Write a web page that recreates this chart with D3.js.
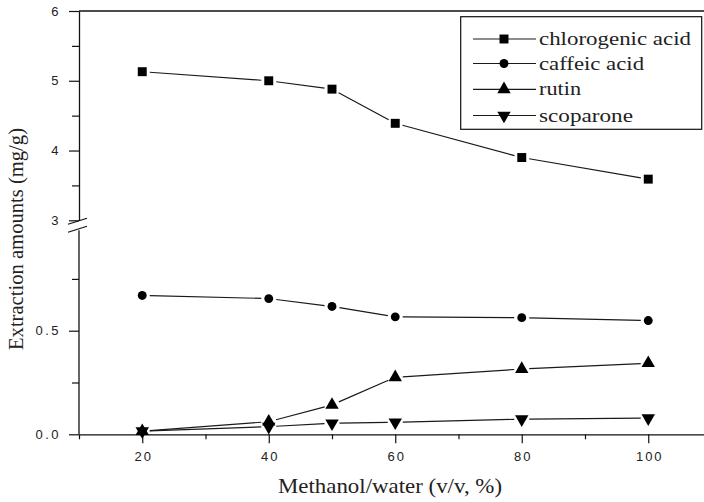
<!DOCTYPE html>
<html><head><meta charset="utf-8">
<script src="https://cdn.jsdelivr.net/npm/d3@7"></script>
<style>
html,body{margin:0;padding:0;background:#fff;}
svg{display:block;}
</style>
</head><body>
<svg id="chart" width="704" height="502"></svg>
<script>
// ---- data ----
const methanol = [20, 40, 50, 60, 80, 100];
const chlorogenicAcid = [5.13, 5.00, 4.88, 4.39, 3.90, 3.59];
const caffeicAcid = [0.670, 0.655, 0.617, 0.567, 0.563, 0.549];
const rutin = [0.015, 0.061, 0.142, 0.275, 0.315, 0.343];
const scoparone = [0.015, 0.037, 0.053, 0.058, 0.073, 0.078];
const seriesNames = ["chlorogenic acid", "caffeic acid", "rutin", "scoparone"];
const xTickValues = [20, 40, 60, 80, 100];
const xMinorTicks = [10, 30, 50, 70, 90];
const yLowerTicks = [0, 0.5];
const yLowerMinor = [0.25, 0.75];
const yUpperTicks = [3, 4, 5, 6];
const yUpperMinor = [3.5, 4.5, 5.5];
const xTitle = "Methanol/water (v/v, %)";
const yTitle = "Extraction amounts (mg/g)";

// ---- layout ----
const svg = d3.select("#chart");
const axisX = 79, axisBottom = 434.3;
const x = d3.scaleLinear().domain([10, 110]).range([79, 711.5]);
const yLow = d3.scaleLinear().domain([0, 1]).range([434.3, 227.1]);
const yUp = d3.scaleLinear().domain([3, 6]).range([220.3, 11]);
const y = v => v >= 2 ? yUp(v) : yLow(v);

const ink = "#111";
const tickFont = "'Liberation Sans', Arial, sans-serif";
const serif = "'Liberation Serif', 'Times New Roman', serif";

// x axis
const gx = svg.append("g").attr("transform", `translate(0,${axisBottom})`)
  .call(d3.axisBottom(x).tickValues(xTickValues).tickSize(9).tickPadding(8).tickSizeOuter(0));
gx.select(".domain").attr("stroke", ink).attr("stroke-width", 1.3);
gx.selectAll(".tick text").attr("font-family", tickFont).attr("font-size", 13)
  .attr("letter-spacing", "2px").attr("dx", "1px").attr("fill", "#222");
svg.append("g").attr("transform", `translate(0,${axisBottom})`)
  .call(d3.axisBottom(x).tickValues(xMinorTicks).tickSize(5).tickFormat("").tickSizeOuter(0))
  .call(g => { g.select(".domain").remove(); });

// y axis lower
const gyl = svg.append("g").attr("transform", `translate(${axisX},0)`)
  .call(d3.axisLeft(yLow).tickValues(yLowerTicks).tickSize(10).tickPadding(8).tickSizeOuter(0)
    .tickFormat(d3.format(".1f")));
gyl.select(".domain").attr("d", `M0,${yLow(0)}V${yLow(0.985)}`).attr("stroke", ink).attr("stroke-width", 1.3);
svg.append("g").attr("transform", `translate(${axisX},0)`)
  .call(d3.axisLeft(yLow).tickValues(yLowerMinor).tickSize(7).tickFormat(""))
  .call(g => { g.select(".domain").remove(); });
// y axis upper
const gyu = svg.append("g").attr("transform", `translate(${axisX},0)`)
  .call(d3.axisLeft(yUp).tickValues(yUpperTicks).tickSize(10).tickPadding(8).tickSizeOuter(0)
    .tickFormat(d3.format("d")));
gyu.select(".domain").attr("stroke", ink).attr("stroke-width", 1.3);
svg.append("g").attr("transform", `translate(${axisX},0)`)
  .call(d3.axisLeft(yUp).tickValues(yUpperMinor).tickSize(7).tickFormat(""))
  .call(g => { g.select(".domain").remove(); });
svg.selectAll("g .tick line").attr("stroke", ink).attr("stroke-width", 1.2);
[gyl, gyu].forEach(g => g.selectAll(".tick text").attr("font-family", tickFont).attr("font-size", 13)
  .attr("letter-spacing", "2.5px").attr("fill", "#222"));

// break marks
const bY = [yUp(3) + 1, yLow(0.985) - 1];
bY.forEach(b => {
  svg.append("line").attr("x1", axisX - 11).attr("y1", b + 3).attr("x2", axisX + 8).attr("y2", b - 3)
    .attr("stroke", ink).attr("stroke-width", 1.2);
});

// top frame line
svg.append("line").attr("x1", axisX).attr("x2", x(110)).attr("y1", yUp(6)).attr("y2", yUp(6))
  .attr("stroke", ink).attr("stroke-width", 1.3);

// titles
svg.append("text").attr("x", 390).attr("y", 493).attr("text-anchor", "middle")
  .attr("font-family", serif).attr("font-size", 21).attr("fill", "#222")
  .attr("textLength", 224).attr("lengthAdjust", "spacingAndGlyphs").text(xTitle);
svg.append("text").attr("transform", "translate(23,239) rotate(-90)").attr("text-anchor", "middle")
  .attr("font-family", serif).attr("font-size", 20).attr("fill", "#222")
  .attr("textLength", 222).attr("lengthAdjust", "spacingAndGlyphs").text(yTitle);

// series
const symbols = [d3.symbolSquare, d3.symbolCircle, d3.symbolTriangle, d3.symbolTriangle];
const symSizes = [80, 62, 78, 78];
const rotations = [0, 0, 0, 180];
const allSeries = [chlorogenicAcid, caffeicAcid, rutin, scoparone];
const gap = 7.5;

allSeries.forEach((vals, si) => {
  const pts = methanol.map((m, i) => [x(m), y(vals[i])]);
  const g = svg.append("g");
  for (let i = 0; i < pts.length - 1; i++) {
    const [x1, y1] = pts[i], [x2, y2] = pts[i + 1];
    const len = Math.hypot(x2 - x1, y2 - y1);
    if (len <= 2 * gap) continue;
    const ux = (x2 - x1) / len, uy = (y2 - y1) / len;
    g.append("line").attr("x1", x1 + ux * gap).attr("y1", y1 + uy * gap)
      .attr("x2", x2 - ux * gap).attr("y2", y2 - uy * gap)
      .attr("stroke", "#1a1a1a").attr("stroke-width", 1.2);
  }
  g.selectAll("path.m").data(pts).join("path").attr("class", "m")
    .attr("d", d3.symbol().type(symbols[si]).size(symSizes[si]))
    .attr("transform", d => `translate(${d[0]},${d[1]}) rotate(${rotations[si]})`)
    .attr("fill", "#000");
});

// legend
const lg = svg.append("g");
lg.append("rect").attr("x", 460.7).attr("y", 16.7).attr("width", 241).attr("height", 112.6)
  .attr("fill", "#fff").attr("stroke", ink).attr("stroke-width", 1.2);
const legendRows = [39, 63.5, 89.3, 115.5];
const legendLens = [152, 105, 42, 94];
seriesNames.forEach((name, i) => {
  const ry = legendRows[i];
  lg.append("line").attr("x1", 473).attr("x2", 536).attr("y1", ry).attr("y2", ry)
    .attr("stroke", "#1a1a1a").attr("stroke-width", 1.2);
  lg.append("path").attr("d", d3.symbol().type(symbols[i]).size(symSizes[i])())
    .attr("transform", `translate(504,${ry}) rotate(${rotations[i]})`).attr("fill", "#000");
  lg.append("text").attr("x", 539).attr("y", ry + 6).attr("font-family", serif).attr("font-size", 19)
    .attr("fill", "#222").attr("textLength", legendLens[i]).attr("lengthAdjust", "spacingAndGlyphs")
    .text(name);
});
</script>
</body></html>
